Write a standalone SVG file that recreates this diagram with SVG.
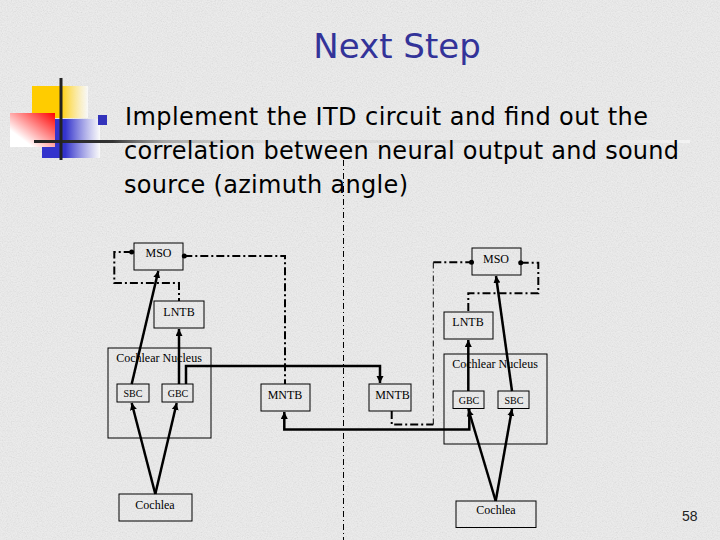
<svg xmlns="http://www.w3.org/2000/svg" width="720" height="540" viewBox="0 0 720 540">
<defs>
<filter id="noise" x="0" y="0" width="100%" height="100%">
<feTurbulence type="fractalNoise" baseFrequency="0.8" numOctaves="2" seed="7"/>
<feColorMatrix type="matrix" values="1 0 0 0 0  1 0 0 0 0  1 0 0 0 0  0 0 0 0 0.14"/>
</filter>
<linearGradient id="yellowG" x1="0" y1="0" x2="1" y2="0">
<stop offset="0" stop-color="#ffcc00"/><stop offset="0.5" stop-color="#ffcc00"/><stop offset="1" stop-color="#ffffff" stop-opacity="0.7"/>
</linearGradient>
<linearGradient id="redG" x1="1" y1="0" x2="0" y2="1">
<stop offset="0" stop-color="#ff0000"/><stop offset="0.75" stop-color="#ffffff"/><stop offset="1" stop-color="#ffffff"/>
</linearGradient>
<linearGradient id="blueG" x1="0" y1="0" x2="1" y2="0">
<stop offset="0" stop-color="#3333cc"/><stop offset="0.4" stop-color="#3333cc"/><stop offset="1" stop-color="#ffffff" stop-opacity="0.8"/>
</linearGradient>
<linearGradient id="ruleG" gradientUnits="userSpaceOnUse" x1="34" y1="0" x2="690" y2="0">
<stop offset="0" stop-color="#222"/><stop offset="0.12" stop-color="#333"/><stop offset="0.2" stop-color="#666" stop-opacity="0.5"/><stop offset="0.35" stop-color="#999" stop-opacity="0.15"/><stop offset="1" stop-color="#ffffff" stop-opacity="0.5"/>
</linearGradient>
<marker id="arr" markerUnits="userSpaceOnUse" markerWidth="8" markerHeight="8" refX="7" refY="3.5" orient="auto">
<path d="M0,0 L7,3.5 L0,7 z" fill="#000"/>
</marker>
<style>
.box{fill:none;stroke:#000;stroke-width:1}
.t{font-family:"Liberation Serif","Times New Roman",serif;font-size:12px;text-anchor:middle;fill:#000}
.s{font-size:10px}
.solid{fill:none;stroke:#000;stroke-width:2.5}
.dd{fill:none;stroke:#000;stroke-width:2;stroke-dasharray:8 3 2 3}
.thin{fill:none;stroke:#000;stroke-width:1;stroke-dasharray:6 3 1 3}
.body{font-family:"DejaVu Sans",Verdana,sans-serif;font-size:24px;fill:#000}
</style>
</defs>

<rect x="0" y="0" width="720" height="540" fill="#eeeeee"/>
<rect x="0" y="0" width="720" height="540" filter="url(#noise)"/>

<g id="logo">
<rect x="32" y="86" width="56" height="32" fill="url(#yellowG)"/>
<rect x="42" y="119" width="58" height="39" fill="url(#blueG)"/>
<rect x="10" y="113" width="45" height="34" fill="url(#redG)"/>
<line x1="34" y1="141.5" x2="690" y2="141.5" stroke="url(#ruleG)" stroke-width="3"/>
<line x1="61" y1="78" x2="61" y2="160" stroke="#222" stroke-width="3"/>
<rect x="98" y="115" width="9" height="10" fill="#3333bb"/>
</g>

<text id="title" x="397" y="58" font-family="DejaVu Sans, Verdana, sans-serif" font-size="34" fill="#333399" text-anchor="middle">Next Step</text>

<g id="bullet-text">
<text class="body" x="125" y="125" textLength="523" lengthAdjust="spacing">Implement the ITD circuit and find out the</text>
<text class="body" x="124" y="159" textLength="555" lengthAdjust="spacing">correlation between neural output and sound</text>
<text class="body" x="124" y="193" textLength="284" lengthAdjust="spacing">source (azimuth angle)</text>
</g>

<g id="connectors">
<line class="thin" x1="343.5" y1="160" x2="343.5" y2="540"/>
<!-- left side -->
<line class="solid" x1="131.7" y1="384" x2="158.3" y2="271" marker-end="url(#arr)"/>
<line class="solid" x1="179" y1="384" x2="179" y2="329" marker-end="url(#arr)"/>
<polyline class="solid" points="186,384 186,366 380,366 380,383" marker-end="url(#arr)"/>
<line class="solid" x1="155.3" y1="494" x2="131.7" y2="403" marker-end="url(#arr)"/>
<line class="solid" x1="155.3" y1="494" x2="176.7" y2="403" marker-end="url(#arr)"/>
<polyline class="dd" points="131.7,252 114.3,252 114.3,283 179,283 179,301"/>
<polyline class="dd" points="184.3,256 285,256 285,384"/>
<!-- right side -->
<line class="solid" x1="468.3" y1="391" x2="468.3" y2="340" marker-end="url(#arr)"/>
<line class="solid" x1="512" y1="391" x2="496" y2="276" marker-end="url(#arr)"/>
<polyline class="solid" points="469.3,409 469.3,429.5 284.3,429.5 284.3,412" marker-end="url(#arr)"/>
<line class="solid" x1="495.7" y1="501" x2="468.3" y2="409" marker-end="url(#arr)"/>
<line class="solid" x1="495.7" y1="501" x2="512" y2="409" marker-end="url(#arr)"/>
<polyline class="dd" points="391.7,411 391.7,424.5 433.3,424.5"/>
<line class="thin" x1="433.3" y1="424.5" x2="433.3" y2="262.3"/>
<polyline class="dd" points="433.3,262.3 471,262.3"/>
<polyline class="dd" points="520.7,262.7 538.3,262.7 538.3,293.3 468.3,293.3 468.3,312"/>
<circle cx="131.7" cy="252" r="2.5" fill="#000"/>
<circle cx="184.3" cy="256" r="2.5" fill="#000"/>
<circle cx="471.5" cy="262.3" r="2.5" fill="#000"/>
<circle cx="520.7" cy="262.7" r="2.5" fill="#000"/>
</g>

<g id="mso-left"><rect class="box" x="134" y="243" width="49" height="27"/><text class="t" x="158.5" y="257">MSO</text></g>
<g id="mso-right"><rect class="box" x="472" y="248" width="49" height="27"/><text class="t" x="496" y="263">MSO</text></g>
<g id="lntb-left"><rect class="box" x="154" y="301" width="50" height="27"/><text class="t" x="179" y="316">LNTB</text></g>
<g id="lntb-right"><rect class="box" x="444" y="312" width="49" height="27"/><text class="t" x="468" y="326">LNTB</text></g>
<g id="cn-left"><rect class="box" x="108" y="348" width="103" height="90"/><text class="t" x="159" y="362">Cochlear Nucleus</text></g>
<g id="cn-right"><rect class="box" x="444" y="354" width="103" height="90"/><text class="t" x="495" y="367.5">Cochlear Nucleus</text></g>
<g id="sbc-left"><rect class="box" x="117" y="384" width="32" height="18"/><text class="t s" x="133" y="397">SBC</text></g>
<g id="gbc-left"><rect class="box" x="162" y="384" width="31" height="18"/><text class="t s" x="178" y="397">GBC</text></g>
<g id="mntb-left"><rect class="box" x="261" y="384" width="49" height="27"/><text class="t" x="285" y="398.5">MNTB</text></g>
<g id="mntb-right"><rect class="box" x="369" y="384" width="42" height="27"/><text class="t" x="392.5" y="398.5">MNTB</text></g>
<g id="gbc-right"><rect class="box" x="453" y="391" width="31" height="17.5"/><text class="t s" x="469" y="403.5">GBC</text></g>
<g id="sbc-right"><rect class="box" x="498" y="391" width="31" height="17.5"/><text class="t s" x="514" y="403.5">SBC</text></g>
<g id="cochlea-left"><rect class="box" x="119" y="494" width="73" height="27"/><text class="t" x="155" y="509">Cochlea</text></g>
<g id="cochlea-right"><rect class="box" x="456" y="501" width="80" height="26.5"/><text class="t" x="496" y="514">Cochlea</text></g>

<text id="page" x="682" y="521" font-family="Liberation Sans, Arial, sans-serif" font-size="14" fill="#222">58</text>
</svg>
